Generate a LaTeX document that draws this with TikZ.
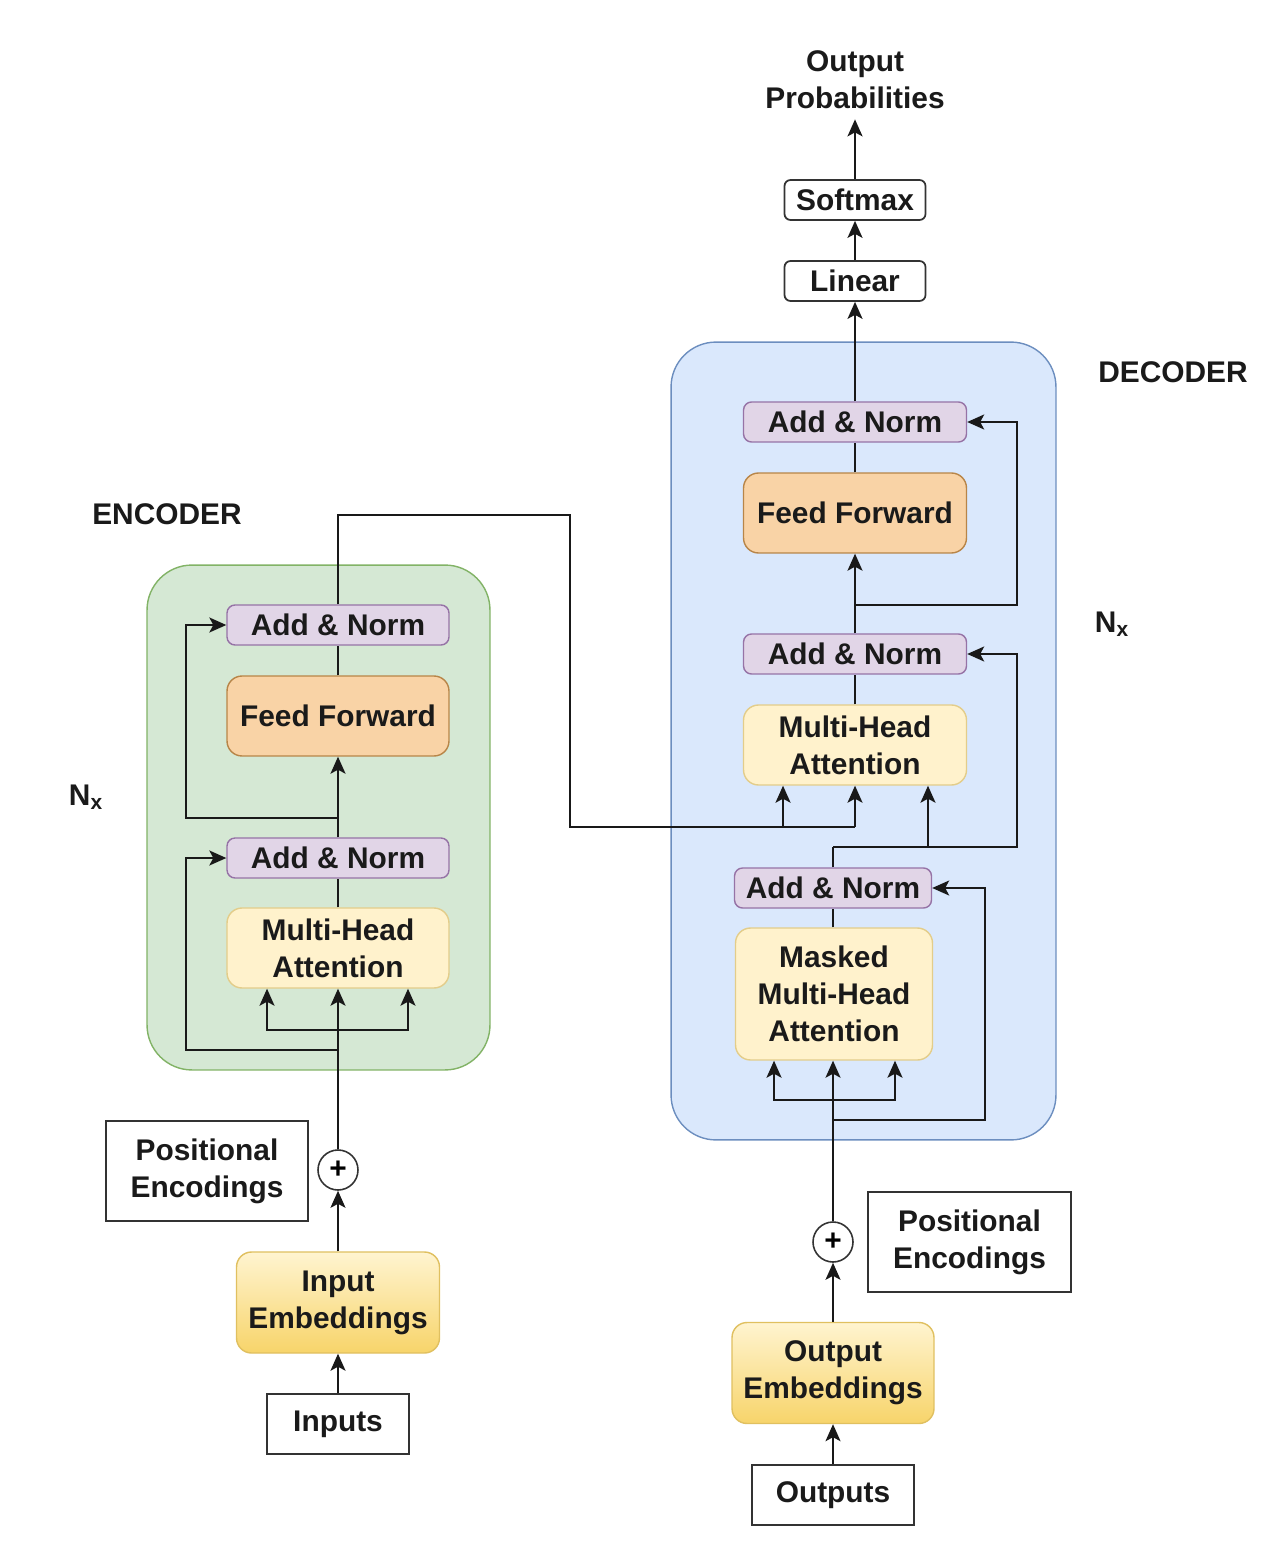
\documentclass[tikz,border=0pt]{standalone}
\usepackage{fontspec}
\setmainfont{Liberation Sans}
\usetikzlibrary{arrows.meta}
\definecolor{encfill}{HTML}{D5E8D4}
\definecolor{encdraw}{HTML}{82B366}
\definecolor{decfill}{HTML}{DAE8FC}
\definecolor{decdraw}{HTML}{6C8EBF}
\definecolor{anfill}{HTML}{E1D5E7}
\definecolor{andraw}{HTML}{9673A6}
\definecolor{fffill}{HTML}{F9D3A6}
\definecolor{ffdraw}{HTML}{B88548}
\definecolor{mhfill}{HTML}{FFF2CC}
\definecolor{mhdraw}{HTML}{E3CD8A}
\definecolor{embtop}{HTML}{FFF4D0}
\definecolor{embbot}{HTML}{F7D46A}
\definecolor{embdraw}{HTML}{E0C060}
\definecolor{txt}{HTML}{1A1A1A}
\tikzset{
  base/.style={font=\fontsize{17}{21}\selectfont\bfseries, text=txt, align=center, inner sep=0pt},
  container/.style={rounded corners=0.9cm, line width=0.8pt},
  addnorm/.style={base, fill=anfill, draw=andraw, line width=0.8pt, rounded corners=0.16cm, minimum height=0.8cm},
  ffbox/.style={base, fill=fffill, draw=ffdraw, line width=0.8pt, rounded corners=0.3cm, minimum height=1.6cm},
  mhbox/.style={base, fill=mhfill, draw=mhdraw, line width=0.8pt, rounded corners=0.3cm},
  embbox/.style={base, top color=embtop, bottom color=embbot, draw=embdraw, line width=0.8pt, rounded corners=0.3cm, minimum height=2.02cm},
  plainbox/.style={base, draw=black!80, line width=1pt, fill=white},
  smallbox/.style={base, draw=black!80, line width=1pt, fill=white, rounded corners=0.12cm, minimum width=2.82cm, minimum height=0.8cm},
  plusnode/.style={circle, draw=black!80, line width=0.9pt, fill=white, minimum size=0.8cm, inner sep=0pt, font=\fontsize{17}{20}\selectfont\bfseries},
  lbl/.style={base},
  conn/.style={draw=black!90, line width=1.1pt},
  arr/.style={conn, -{Stealth[length=0.34cm, width=0.3cm, inset=0.08cm]}},
}
\begin{document}
\begin{tikzpicture}[x=0.02cm, y=-0.02cm]
\fill[white] (0,0) rectangle (1286,1550);
\useasboundingbox (0,0) rectangle (1286,1550);

% containers
\node[container, fill=encfill, draw=encdraw, minimum width=6.86cm, minimum height=10.1cm] (enc) at (318.5,817.5) {};
\node[container, fill=decfill, draw=decdraw, minimum width=7.7cm, minimum height=15.96cm] (dec) at (863.5,741) {};

% labels
\node[lbl] (enclbl) at (167,514) {ENCODER};
\node[lbl] (declbl) at (1173,372) {DECODER};
\node[lbl] (nxe) at (86,797) {N\textsubscript{x}};
\node[lbl] (nxd) at (1112,624) {N\textsubscript{x}};

% encoder
\node[addnorm, minimum width=4.44cm] (ean2) at (338,625) {Add \& Norm};
\node[ffbox, minimum width=4.44cm] (eff) at (338,716) {Feed Forward};
\node[addnorm, minimum width=4.44cm] (ean1) at (338,858) {Add \& Norm};
\node[mhbox, minimum width=4.44cm, minimum height=1.6cm] (emha) at (338,948) {Multi-Head\\Attention};
\node[plainbox, minimum width=4.04cm, minimum height=2.0cm] (pe1) at (207,1171) {Positional\\Encodings};
\node[plusnode] (pluse) at (338,1170) {+};
\node[embbox, minimum width=4.06cm] (inemb) at (338,1302.5) {Input\\Embeddings};
\node[plainbox, minimum width=2.84cm, minimum height=1.2cm] (inputs) at (338,1424) {Inputs};

% decoder
\node[addnorm, minimum width=4.46cm] (dan3) at (855,422) {Add \& Norm};
\node[ffbox, minimum width=4.46cm] (dff) at (855,513) {Feed Forward};
\node[addnorm, minimum width=4.46cm] (dan2) at (855,654) {Add \& Norm};
\node[mhbox, minimum width=4.46cm, minimum height=1.6cm] (dmha) at (855,745) {Multi-Head\\Attention};
\node[addnorm, minimum width=3.94cm] (dan1) at (833,888) {Add \& Norm};
\node[mhbox, minimum width=3.94cm, minimum height=2.64cm] (mmha) at (834,994) {Masked\\Multi-Head\\Attention};
\node[plusnode] (plusd) at (833,1242) {+};
\node[plainbox, minimum width=4.06cm, minimum height=2.0cm] (pe2) at (969.5,1242) {Positional\\Encodings};
\node[embbox, minimum width=4.04cm] (outemb) at (833,1373) {Output\\Embeddings};
\node[plainbox, minimum width=3.24cm, minimum height=1.2cm] (outputs) at (833,1495) {Outputs};

% output head
\node[smallbox] (linear) at (855,281) {Linear};
\node[smallbox] (softmax) at (855,200) {Softmax};
\node[lbl] (outprob) at (855,80) {Output\\Probabilities};

% encoder connectors
\draw[arr] (inputs.north) -- (inemb.south);
\draw[arr] (inemb.north) -- (pluse.south);
\draw[arr] (pluse.north) -- (emha.south);
\coordinate (eb1) at (338,1030);
\draw[arr] (eb1) -| ([xshift=-1.42cm]emha.south);
\draw[arr] (eb1) -| ([xshift=1.40cm]emha.south);
\coordinate (er1) at (338,1050);
\draw[arr] (er1) -| ([xshift=-0.8cm]ean1.west) -- (ean1.west);
\draw[conn] (emha.north) -- (ean1.south);
\draw[arr] (ean1.north) -- (eff.south);
\coordinate (er2) at (338,818);
\draw[arr] (er2) -| ([xshift=-0.8cm]ean2.west) -- (ean2.west);
\draw[conn] (eff.north) -- (ean2.south);
\coordinate (c1) at (570,515);
\coordinate (mem) at (855,827);
\draw[conn] (ean2.north) |- (c1) |- (mem);
\draw[arr] (mem) -- (dmha.south);
\draw[arr] ([xshift=-1.44cm]mem) -- ([xshift=-1.44cm]dmha.south);

% decoder connectors
\draw[arr] (outputs.north) -- (outemb.south);
\draw[arr] (outemb.north) -- (plusd.south);
\draw[arr] (plusd.north) -- (mmha.south -| plusd.north);
\coordinate (db1) at (833,1100);
\draw[arr] (db1) -| ([xshift=-1.2cm]mmha.south);
\draw[arr] (db1) -| ([xshift=1.22cm]mmha.south);
\coordinate (dr1) at (833,1120);
\draw[arr] (dr1) -| ([xshift=1.06cm]dan1.east) -- (dan1.east);
\draw[conn] (mmha.north -| dan1.south) -- (dan1.south);
\coordinate (dr2) at (833,847);
\draw[conn] (dan1.north) -- (dr2);
\draw[arr] (dr2) -| ([xshift=1.0cm]dan2.east) -- (dan2.east);
\draw[arr] ([xshift=1.9cm]dr2) -- ([xshift=1.46cm]dmha.south);
\draw[conn] (dmha.north) -- (dan2.south);
\draw[arr] (dan2.north) -- (dff.south);
\coordinate (dr3) at (855,605);
\draw[arr] (dr3) -| ([xshift=1.0cm]dan3.east) -- (dan3.east);
\draw[conn] (dff.north) -- (dan3.south);
\draw[arr] (dan3.north) -- (linear.south);
\draw[arr] (linear.north) -- (softmax.south);
\draw[arr] (softmax.north) -- ([yshift=-0.2cm]outprob.south);
\end{tikzpicture}
\end{document}
